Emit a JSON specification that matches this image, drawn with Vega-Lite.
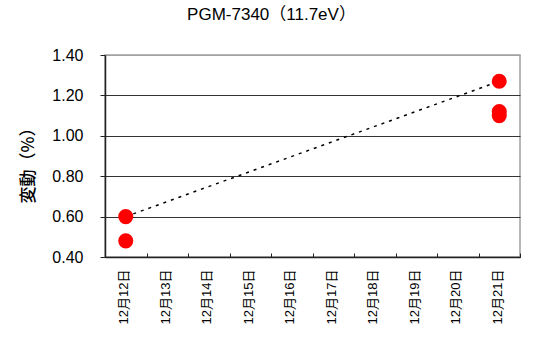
{
  "$schema": "https://vega.github.io/schema/vega-lite/v6.json",
  "width": 415,
  "height": 202,
  "autosize": {"type": "none"},
  "padding": {"left": 105, "top": 55, "right": 21, "bottom": 83},
  "background": "white",
  "title": {
    "text": "PGM-7340（11.7eV）",
    "font": "Liberation Sans, Noto Sans CJK JP",
    "fontSize": 17,
    "fontWeight": "normal",
    "color": "black",
    "anchor": "middle",
    "baseline": "alphabetic",
    "offset": 10,
    "dx": -41
  },
  "data": {
    "values": [
      {"date": "12月12日", "value": 0.60, "run": 1},
      {"date": "12月12日", "value": 0.48, "run": 2},
      {"date": "12月21日", "value": 1.27, "run": 1},
      {"date": "12月21日", "value": 1.12, "run": 2},
      {"date": "12月21日", "value": 1.10, "run": 3}
    ]
  },
  "encoding": {
    "x": {
      "field": "date",
      "type": "ordinal",
      "sort": null,
      "scale": {
        "type": "band",
        "domain": ["12月12日", "12月13日", "12月14日", "12月15日", "12月16日", "12月17日", "12月18日", "12月19日", "12月20日", "12月21日"],
        "paddingInner": 0,
        "paddingOuter": 0
      },
      "axis": {
        "title": null,
        "labelAngle": 270,
        "labelFont": "Liberation Sans, Noto Sans CJK JP",
        "labelFontSize": 13,
        "labelColor": "black",
        "labelPadding": 16,
        "labelOffset": -2,
        "tickBand": "extent",
        "tickSize": -4,
        "tickColor": "#222",
        "domainColor": "#222",
        "domainWidth": 1.5,
        "grid": false
      }
    },
    "y": {
      "field": "value",
      "type": "quantitative",
      "scale": {"domain": [0.4, 1.4], "nice": false, "zero": false},
      "axis": {
        "title": "変動（%）",
        "titleFont": "Noto Sans CJK JP",
        "titleFontSize": 17,
        "titleFontWeight": 500,
        "titleColor": "black",
        "titleAngle": 270,
        "titleX": -77,
        "titleY": 106,
        "titleAlign": "center",
        "titleBaseline": "middle",
        "values": [0.4, 0.6, 0.8, 1.0, 1.2, 1.4],
        "format": ".2f",
        "labelFont": "Liberation Sans",
        "labelFontSize": 16,
        "labelColor": "black",
        "labelPadding": 17,
        "tickSize": 5,
        "tickColor": "#222",
        "domainColor": "#222",
        "domainWidth": 1.5,
        "grid": true,
        "gridColor": {"condition": {"test": "datum.value > 1.39", "value": "#a0a0a0"}, "value": "#333"},
        "gridWidth": 1
      }
    }
  },
  "layer": [
    {
      "transform": [{"filter": "datum.run == 1"}],
      "mark": {"type": "line", "color": "black", "strokeDash": [3, 5], "strokeWidth": 1.5},
      "encoding": {}
    },
    {
      "mark": {"type": "circle", "color": "#ff0000", "opacity": 1, "size": 227},
      "encoding": {}
    }
  ],
  "config": {
    "view": {"stroke": "#a0a0a0", "strokeWidth": 1.5}
  }
}
